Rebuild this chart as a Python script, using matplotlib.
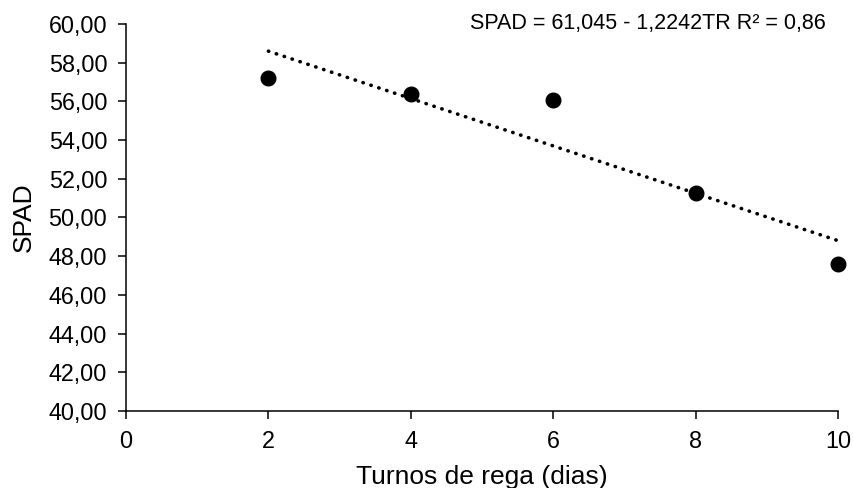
import matplotlib
matplotlib.use("Agg")
import matplotlib.pyplot as plt
import numpy as np
from matplotlib.ticker import FuncFormatter

# data
turnos = [2, 4, 6, 8, 10]
spad = [57.23, 56.38, 56.06, 51.27, 47.58]
trend_a = 61.045
trend_b = -1.2242
equation = "SPAD = 61,045 - 1,2242TR R² = 0,86"

plt.rcParams["font.family"] = ["Liberation Sans", "DejaVu Sans"]

fig = plt.figure(figsize=(8.54, 4.88), dpi=100)
ax = fig.add_axes([126 / 854, 1 - 411 / 488, 712 / 854, 387 / 488])

x_fit = np.array([turnos[0], turnos[-1]])
ax.plot(x_fit, trend_a + trend_b * x_fit, color="black", lw=2.6,
        linestyle=(0, (0.1, 2.2)), dash_capstyle="round", zorder=2)
ax.plot(turnos, spad, "o", color="black", markersize=10.5, zorder=3, clip_on=False)

ax.set_xlim(0, 10)
ax.set_ylim(40, 60)
ax.set_xticks(range(0, 11, 2))
ax.set_yticks(np.arange(40, 61, 2))
ax.yaxis.set_major_formatter(FuncFormatter(lambda v, p: f"{v:.2f}".replace(".", ",")))

for s in ["top", "right"]:
    ax.spines[s].set_visible(False)
for s in ["left", "bottom"]:
    ax.spines[s].set_linewidth(1.1)
ax.tick_params(direction="out", length=5.5, width=1.1, labelsize=16.8, pad=8)

ax.set_xlabel("Turnos de rega (dias)", fontsize=19, labelpad=8.5)
ax.set_ylabel("SPAD", fontsize=19, labelpad=9)

ax.text(7.33, 60, equation, fontsize=15.5, ha="center", va="center")

fig.savefig("out.png", dpi=100)
